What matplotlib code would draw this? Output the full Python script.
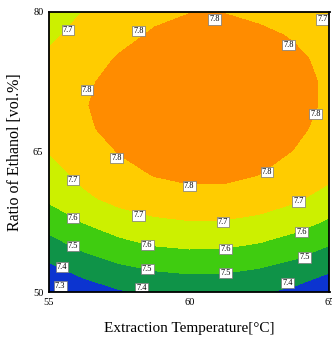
import numpy as np
import matplotlib.pyplot as plt

plt.rcParams['font.family'] = 'serif'
plt.rcParams['font.serif'] = ['Liberation Serif', 'DejaVu Serif']

# grid of the response surface (pH value)
temperature = [55, 56.25, 57.5, 58.75, 60, 61.25, 62.5, 63.75, 65]
ethanol = [50, 52.5, 55, 57.5, 60, 62.5, 65, 67.5, 70, 72.5, 75, 77.5, 80]
response = [
    [7.290, 7.348, 7.390, 7.418, 7.430, 7.428, 7.410, 7.378, 7.330],
    [7.378, 7.437, 7.480, 7.508, 7.520, 7.517, 7.498, 7.464, 7.415],
    [7.462, 7.525, 7.572, 7.602, 7.615, 7.611, 7.591, 7.554, 7.500],
    [7.541, 7.604, 7.651, 7.681, 7.695, 7.693, 7.674, 7.639, 7.587],
    [7.615, 7.681, 7.729, 7.761, 7.775, 7.772, 7.752, 7.715, 7.660],
    [7.660, 7.725, 7.775, 7.802, 7.815, 7.815, 7.799, 7.767, 7.720],
    [7.703, 7.760, 7.803, 7.826, 7.837, 7.836, 7.823, 7.797, 7.755],
    [7.750, 7.790, 7.820, 7.839, 7.848, 7.847, 7.835, 7.813, 7.780],
    [7.758, 7.796, 7.825, 7.843, 7.852, 7.851, 7.841, 7.820, 7.790],
    [7.750, 7.790, 7.820, 7.840, 7.850, 7.850, 7.840, 7.820, 7.790],
    [7.720, 7.769, 7.806, 7.832, 7.845, 7.847, 7.836, 7.814, 7.780],
    [7.680, 7.736, 7.779, 7.809, 7.825, 7.828, 7.817, 7.793, 7.755],
    [7.640, 7.704, 7.751, 7.783, 7.798, 7.798, 7.781, 7.749, 7.695],
]

levels = [7.2, 7.3, 7.4, 7.5, 7.6, 7.7, 7.8, 7.9]
fill_colors = ['#0a22b8', '#0c34d0', '#0f9348', '#3fcc10', '#ccf000', '#ffcc00', '#ff8c00']

x_ticks = [55, 60, 65]
y_ticks = [50, 65, 80]

# where the contour labels sit
label_spots = [
    (55.67, 78.1), (58.2, 78.0), (60.9, 79.2), (64.75, 79.2), (63.55, 76.5),
    (56.35, 71.6), (64.5, 69.1), (57.4, 64.4), (60.0, 61.4), (62.77, 62.85),
    (55.85, 62.0), (58.2, 58.2), (61.2, 57.5), (63.9, 59.7),
    (55.85, 57.9), (58.5, 55.0), (61.3, 54.6), (64.0, 56.4),
    (55.85, 54.9), (58.5, 52.5), (61.3, 52.0), (64.1, 53.7),
    (55.46, 52.7), (58.3, 50.4), (63.5, 51.0),
    (55.4, 50.6),
]

T, E = np.meshgrid(temperature, ethanol)
Z = np.array(response)

fig = plt.figure(figsize=(3.32, 3.38), dpi=100)
ax = fig.add_axes([49 / 332, 1 - 292 / 338, 280.5 / 332, 280 / 338])

ax.contourf(T, E, Z, levels=levels, colors=fill_colors)
cs = ax.contour(T, E, Z, levels=levels[1:-1], colors='k', linewidths=0)
labels = ax.clabel(cs, inline=False, fmt='%.1f', fontsize=6, manual=label_spots)
for t, spot in zip(labels, label_spots):
    # keep the level text, but set it flat at the chosen spot
    t.set_position(spot)
    t.set_rotation(0)
    t.set_zorder(5)
    t.set_bbox(dict(facecolor='white', edgecolor='#777777', linewidth=0.5, pad=0.8))

ax.set_xlim(55, 65)
ax.set_ylim(50, 80)
ax.set_xticks(x_ticks)
ax.set_yticks(y_ticks)
ax.tick_params(length=0, labelsize=7.5, pad=4)
for side in ax.spines.values():
    side.set_linewidth(1.3)
    side.set_zorder(6)

ax.set_xlabel('Extraction Temperature[°C]', fontsize=11, labelpad=11)
ax.set_ylabel('Ratio of Ethanol [vol.%]', fontsize=11.5, labelpad=7)

fig.savefig('out.png', dpi=100)
